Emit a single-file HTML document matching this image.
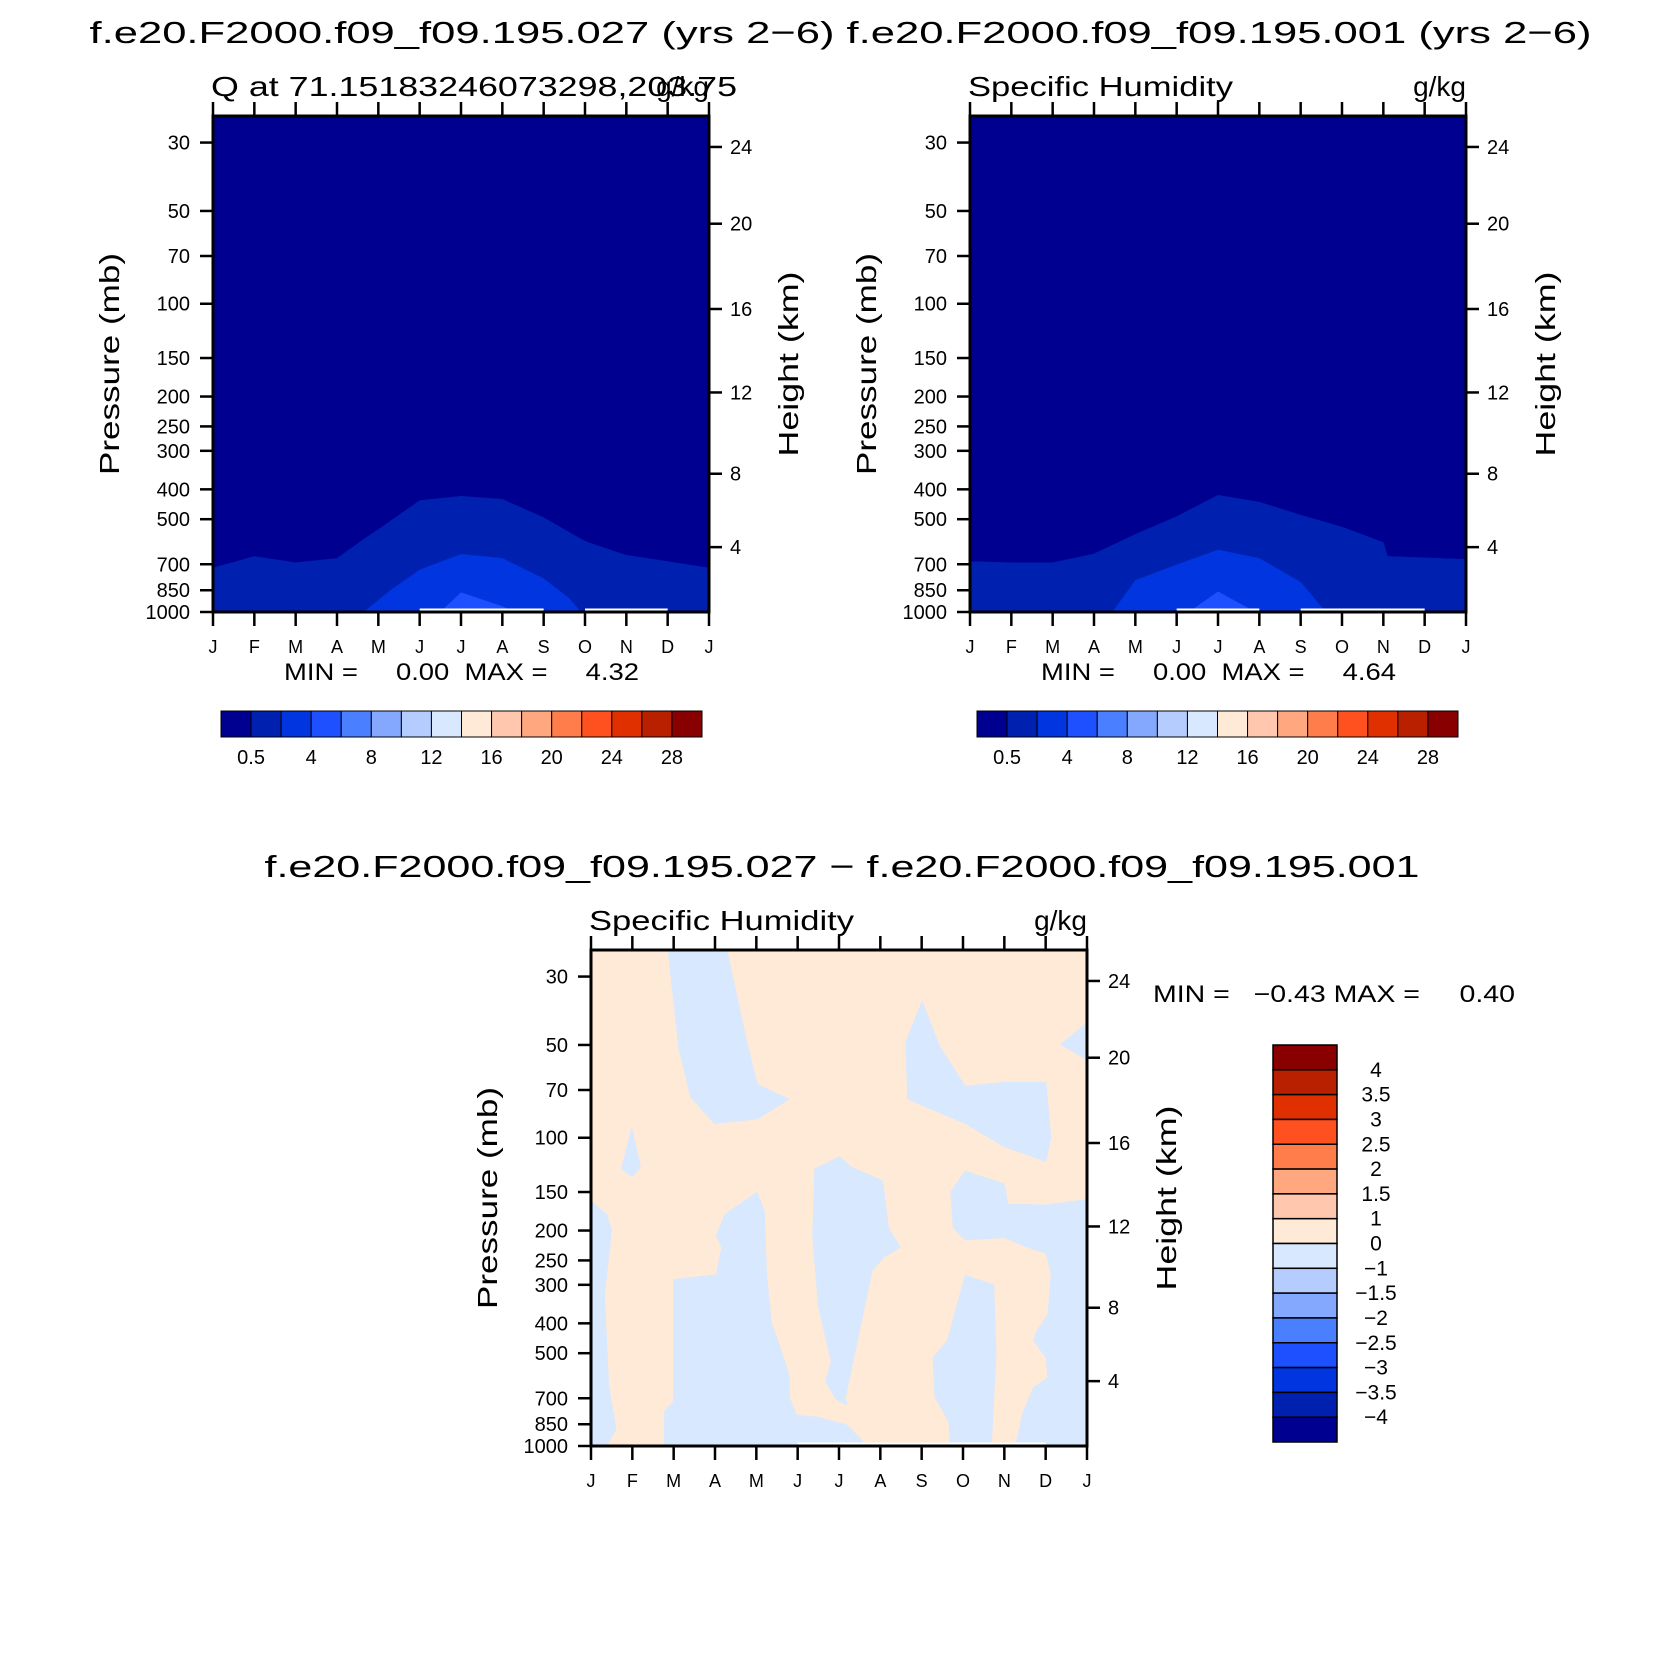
<!DOCTYPE html>
<html><head><meta charset="utf-8">
<style>
html,body{margin:0;padding:0;background:#fff;}
svg{display:block;font-family:"Liberation Sans","DejaVu Sans",sans-serif;}
</style></head>
<body>
<svg id="fig" width="1680" height="1680" viewBox="0 0 1680 1680" xmlns="http://www.w3.org/2000/svg">
<rect width="1680" height="1680" fill="#fff"/>
<text x="462" y="43" font-size="31" text-anchor="middle" textLength="745" lengthAdjust="spacingAndGlyphs">f.e20.F2000.f09_f09.195.027  (yrs  2−6)</text>
<text x="1219" y="43" font-size="31" text-anchor="middle" textLength="745" lengthAdjust="spacingAndGlyphs">f.e20.F2000.f09_f09.195.001  (yrs  2−6)</text>
<text x="842" y="877" font-size="31" text-anchor="middle" textLength="1155" lengthAdjust="spacingAndGlyphs">f.e20.F2000.f09_f09.195.027  −  f.e20.F2000.f09_f09.195.001</text>
<g id="layer"></g>
</svg>
<script>
// ---------- data ----------
const months = ["J","F","M","A","M","J","J","A","S","O","N","D","J"];
const presTicks = [30,50,70,100,150,200,250,300,400,500,700,850,1000];
const kmTicks = [4,8,12,16,20,24];
const kmPres = [616,356,194,104,55,31];
const colors16 = ["#000090","#0020B0","#0035E0","#1E50FF","#4A80FF","#85A8FF","#B5CCFF","#D7E8FF","#FFEAD8","#FFC8AE","#FFA880","#FF7D4A","#FF5020","#E03000","#B82000","#880000"];
const topBarLabels = ["0.5","4","8","12","16","20","24","28"];
const diffBarLabels = ["4","3.5","3","2.5","2","1.5","1","0","−1","−1.5","−2","−2.5","−3","−3.5","−4"];

// top-left panel contours (month index, pressure mb)
const tl05M = [0,1,2,3,3.65,4,5,6,7,8,9,10,11,12];
const tl05P = [720,660,692,670,580,540,435,421,431,494,590,654,686,720];
const tl2M = [3.65,4.3,5,6,7,8,8.6,8.9];
const tl2P = [1000,850,730,650,670,780,900,1000];
const tl4M = [5.5,6,7,7.3];
const tl4P = [1000,865,960,1000];
// top-right panel contours
const tr05M = [0,1,2,3,4,5,6,7,8,9,10,10.1,11,12];
const tr05P = [686,692,692,648,560,490,418,440,485,530,595,660,667,675];
const tr2M = [3.45,4,5,6,7,8,8.6];
const tr2P = [1000,790,703,629,670,800,1000];
const tr4M = [5.3,6,6.9];
const tr4P = [1000,860,1000];

// difference panel: negative (light blue) regions over positive background
const dAM = [1.86,2.12,2.41,2.98,4.02,4.80,4.02,3.76,3.29];
const dAP = [24.6,51,74,90,87,75,67,48,24.6];
const dBM = [0.73,0.99,1.2,0.99];
const dBP = [126,92.5,125,134];
const dCM = [0,0.38,0.50,0.33,0.43,0.61,0.38,0];
const dCP = [160,177,199,324,637,881,1000,1000];
const dDM = [4.02,4.20,4.25,4.37,4.63,4.80,4.80,4.98,5.50,6.19,6.62,6.62,1.77,1.77,1.99,1.99,3.03,3.16,3.03,3.24];
const dDP = [150,174,279,397,503,592,696,795,806,855,977,1000,1000,772,717,288,278,227,208,177];
const dEM = [6.02,5.41,5.36,5.50,5.81,5.67,5.93,6.19,6.16,6.80,7.09,7.49,7.20,7.06,6.28];
const dEP = [115,126,208,353,531,619,706,738,696,271,244,227,196,138,124];
const dFM = [8.01,7.61,7.66,9.05,10.0,11.01,11.13,11.01,10.0,9.05,8.44];
const dFP = [36,49,75,90,107,119.5,99.5,66,66,68,50.6];
const dF2M = [12,11.36,12];
const dF2P = [42.3,49.8,56];
const dGM = [9.05,10.0,10.09,11.01,12,12,10.27,10.44,10.70,11.05,11.01,10.70,10.79,11.05,11.13,11.01,10.56,10.0,9.05,8.76,8.70];
const dGP = [128,141,164,165,158.5,1000,1000,783,646,601,518,454,422,375,279,237,227,211,215,196,150];
const dHM = [9.05,9.75,9.80,9.69,8.70,8.65,8.32,8.27,8.62];
const dHP = [279,300,503,1000,1000,831,696,518,454];

// ---------- drawing ----------
const NS = "http://www.w3.org/2000/svg";
const layer = document.getElementById("layer");
const PTOP = 24.6, W = 496, H = 496;
function mk(tag, attrs, parent){ const e=document.createElementNS(NS,tag); for(const k in attrs) e.setAttribute(k,attrs[k]); (parent||layer).appendChild(e); return e; }

function panel(name, x0, y0){
  const g = mk("g",{});
  
  
  const xs = m => x0 + m/12*W;
  const ys = p => y0 + H - Math.log10(1000/p)/Math.log10(1000/PTOP)*H;
  return {g, xs, ys, x0, y0};
}
function poly(P, ms, ps, fill, name, closeBottom){
  let pts = ms.map((m,i)=>P.xs(m).toFixed(1)+","+P.ys(ps[i]).toFixed(1));
  if(closeBottom){ pts.push(P.xs(ms[ms.length-1]).toFixed(1)+","+P.ys(1000)); pts.push(P.xs(ms[0]).toFixed(1)+","+P.ys(1000)); }
  const e = mk("polygon",{points:pts.join(" "),fill:fill,stroke:fill,"stroke-width":0.5},P.g);
  
  
}
function axes(P, sub1, sub1Len, sub2){
  const g=P.g, x0=P.x0, y0=P.y0;
  const fr = mk("rect",{x:x0,y:y0,width:W,height:H,fill:"none",stroke:"#000","stroke-width":3},g);
  
  
  months.forEach((mn,i)=>{
    const x=P.xs(i);
    mk("line",{x1:x,y1:y0,x2:x,y2:y0-14,stroke:"#000","stroke-width":2.5},g);
    mk("line",{x1:x,y1:y0+H,x2:x,y2:y0+H+14,stroke:"#000","stroke-width":2.5},g);
    const t=mk("text",{x:x,y:y0+H+41,"font-size":18,"text-anchor":"middle"},g);
    t.textContent=mn;
    
    
  });
  presTicks.forEach(p=>{
    const y=P.ys(p);
    mk("line",{x1:x0,y1:y,x2:x0-13,y2:y,stroke:"#000","stroke-width":2.5},g);
    const t=mk("text",{x:x0-23,y:y+7,"font-size":20,"text-anchor":"end"},g);
    t.textContent=p;
    
    
  });
  kmTicks.forEach((k,i)=>{
    const y=P.ys(kmPres[i]);
    mk("line",{x1:x0+W,y1:y,x2:x0+W+13,y2:y,stroke:"#000","stroke-width":2.5},g);
    const t=mk("text",{x:x0+W+21,y:y+7,"font-size":20},g);
    t.textContent=k;
    
    
  });
  const yl=mk("text",{x:0,y:0,"font-size":28,"text-anchor":"middle",textLength:222,lengthAdjust:"spacingAndGlyphs",transform:`translate(${x0-94},${y0+248}) rotate(-90)`},g);
  yl.textContent="Pressure  (mb)";
  
  
  const hl=mk("text",{x:0,y:0,"font-size":28,"text-anchor":"middle",textLength:185,lengthAdjust:"spacingAndGlyphs",transform:`translate(${x0+W+89},${y0+248}) rotate(-90)`},g);
  hl.textContent="Height  (km)";
  
  
  const s1=mk("text",{x:x0-2,y:y0-20,"font-size":28,textLength:sub1Len,lengthAdjust:"spacingAndGlyphs"},g);
  s1.textContent=sub1;
  
  
  const s2=mk("text",{x:x0+W,y:y0-20,"font-size":28,"text-anchor":"end"},g);
  s2.textContent=sub2;
  
  
}
function whiteLine(P,m1,m2){
  mk("line",{x1:P.xs(m1),y1:P.ys(1000)-2.5,x2:P.xs(m2),y2:P.ys(1000)-2.5,stroke:"#fff","stroke-width":2},P.g);
}
function hbar(x0,y0,name){
  const g=mk("g",{});
  
  
  const bw=481/16;
  colors16.forEach((c,i)=>{
    const r=mk("rect",{x:x0+i*bw,y:y0,width:bw,height:26,fill:c,stroke:"#000","stroke-width":1},g);
    
    
  });
  topBarLabels.forEach((l,i)=>{
    const t=mk("text",{x:x0+(1+2*i)*bw,y:y0+53,"font-size":20,"text-anchor":"middle"},g);
    t.textContent=l;
    
    
  });
}
function txt(x,y,s,size,name,len){
  const t=mk("text",{x:x,y:y,"font-size":size,textLength:len,lengthAdjust:"spacingAndGlyphs","xml:space":"preserve"});
  t.style.whiteSpace="pre";
  t.textContent=s;
  
  
}

// top-left
const A = panel("panel-027", 213, 116);
mk("rect",{x:213,y:116,width:W,height:H,fill:colors16[0]},A.g);
poly(A, tl05M, tl05P, colors16[1], "contour-0p5", true);
poly(A, tl2M, tl2P, colors16[2], "contour-2", true);
poly(A, tl4M, tl4P, colors16[3], "contour-4", true);
whiteLine(A,5,8); whiteLine(A,9,11);
axes(A, "Q  at  71.15183246073298,203.75", 526, "g/kg");
txt(284,680,"MIN =     0.00  MAX =     4.32",24,"min-max-left",355);
hbar(221,711,"colorbar-left");

// top-right
const B = panel("panel-001", 970, 116);
mk("rect",{x:970,y:116,width:W,height:H,fill:colors16[0]},B.g);
poly(B, tr05M, tr05P, colors16[1], "contour-0p5", true);
poly(B, tr2M, tr2P, colors16[2], "contour-2", true);
poly(B, tr4M, tr4P, colors16[3], "contour-4", true);
whiteLine(B,5,7); whiteLine(B,8,11);
axes(B, "Specific  Humidity", 265, "g/kg");
txt(1041,680,"MIN =     0.00  MAX =     4.64",24,"min-max-right",355);
hbar(977,711,"colorbar-right");

// difference
const C = panel("panel-difference", 591, 950);
mk("rect",{x:591,y:950,width:W,height:H,fill:colors16[8]},C.g);
const blue = colors16[7];
poly(C,dAM,dAP,blue,"neg-region",false);
poly(C,dBM,dBP,blue,"neg-region",false);
poly(C,dCM,dCP,blue,"neg-region",false);
poly(C,dDM,dDP,blue,"neg-region",false);
poly(C,dEM,dEP,blue,"neg-region",false);
poly(C,dFM,dFP,blue,"neg-region",false);
poly(C,dF2M,dF2P,blue,"neg-region",false);
poly(C,dGM,dGP,blue,"neg-region",false);
poly(C,dHM,dHP,blue,"neg-region",false);
whiteLine(C,5,11);
axes(C, "Specific  Humidity", 265, "g/kg");
txt(1153,1002,"MIN =   −0.43 MAX =     0.40",24,"min-max-diff",362);

// vertical colorbar
(function(){
  const g=mk("g",{});
  
  
  const x0=1273,y0=1045,bh=397/16;
  colors16.slice().reverse().forEach((c,i)=>{
    const r=mk("rect",{x:x0,y:y0+i*bh,width:64,height:bh,fill:c,stroke:"#000","stroke-width":1.5},g);
    
    
  });
  diffBarLabels.forEach((l,i)=>{
    const t=mk("text",{x:1376,y:y0+(i+1)*bh+7,"font-size":21,"text-anchor":"middle"},g);
    t.textContent=l;
    
    
  });
})();
</script>
</body></html>
